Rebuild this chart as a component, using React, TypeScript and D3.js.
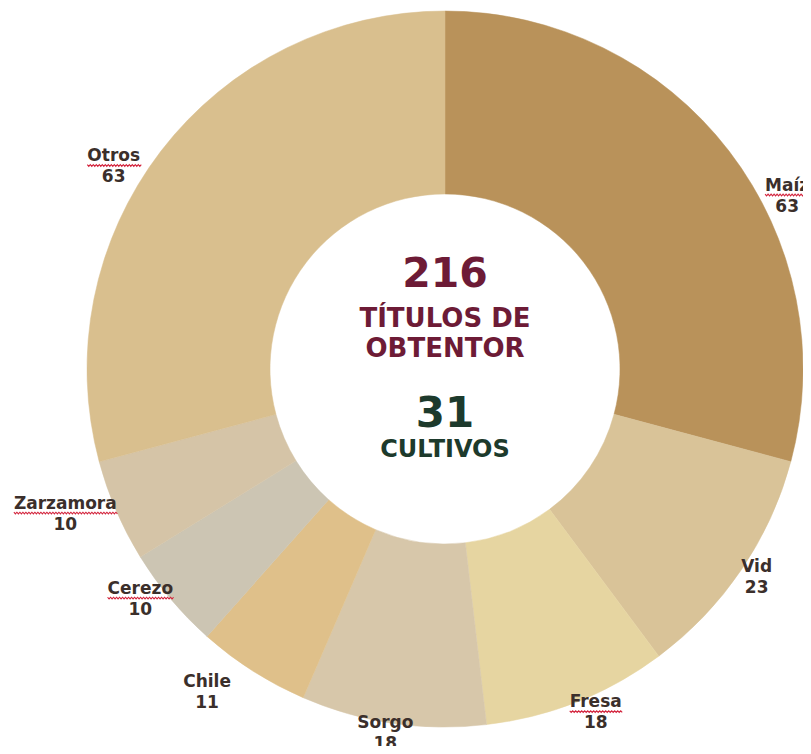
import { useEffect, useRef } from 'react';
import * as d3 from 'd3';

const crops = ['Maíz', 'Vid', 'Fresa', 'Sorgo', 'Chile', 'Cerezo', 'Zarzamora', 'Otros'];
const titles = [63, 23, 18, 18, 11, 10, 10, 63];
const sliceColors = ['#b9925a', '#d9c398', '#e6d5a1', '#d7c7aa', '#dfc08a', '#ccc5b3', '#d5c4a7', '#d9bf8e'];
// words flagged by the spell checker in the source slide
const flagged = ['Maíz', 'Zarzamora', 'Cerezo', 'Fresa', 'Otros'];

const totalTitles = 216;
const totalCrops = 31;

const FONT = '"DejaVu Sans", Verdana, sans-serif';

export default function App() {
  const ref = useRef<HTMLDivElement>(null);

  useEffect(() => {
    if (!ref.current) return;
    d3.select(ref.current).selectAll('*').remove();

    const width = 811;
    const height = 754;
    const cx = 445;
    const cy = 369;
    const outer = 358;
    const inner = 175;

    const svg = d3
      .select(ref.current)
      .append('svg')
      .attr('width', width)
      .attr('height', height)
      .style('display', 'block')
      .style('background', '#ffffff');

    const g = svg.append('g').attr('transform', `translate(${cx},${cy})`);

    const data = crops.map((c, i) => ({ crop: c, value: titles[i], color: sliceColors[i] }));
    const pie = d3
      .pie<{ crop: string; value: number; color: string }>()
      .value((d) => d.value)
      .sort(null);
    const arcs = pie(data);
    const arc = d3
      .arc<d3.PieArcDatum<{ crop: string; value: number; color: string }>>()
      .innerRadius(inner)
      .outerRadius(outer);

    g.selectAll('path.slice')
      .data(arcs)
      .enter()
      .append('path')
      .attr('class', 'slice')
      .attr('d', arc)
      .attr('fill', (d) => d.data.color)
      .attr('stroke', (d) => d.data.color)
      .attr('stroke-width', 0.5);

    // label placement tweaks (degrees, radius) relative to slice mid angle
    const tweak: Record<string, [number, number]> = {
      'Maíz': [10.5, 384],
      Vid: [-0.6, 374],
      Fresa: [-2.1, 374],
      Sorgo: [1, 368],
      Chile: [4, 400],
      Cerezo: [3.1, 381],
      Zarzamora: [2.6, 406],
      Otros: [-5.9, 389],
    };

    const labels = g
      .selectAll('g.lbl')
      .data(arcs)
      .enter()
      .append('g')
      .attr('class', 'lbl')
      .attr('transform', (d) => {
        const [da, r] = tweak[d.data.crop] || [0, 385];
        const a = (d.startAngle + d.endAngle) / 2 + (da * Math.PI) / 180;
        return `translate(${r * Math.sin(a)},${-r * Math.cos(a)})`;
      });

    labels
      .append('text')
      .attr('text-anchor', 'middle')
      .attr('y', -4)
      .attr('font-family', FONT)
      .attr('font-weight', 700)
      .attr('font-size', 17)
      .attr('fill', '#3b2f2b')
      .text((d) => d.data.crop)
      .each(function (d) {
        if (!flagged.includes(d.data.crop)) return;
        const w = (this as SVGTextElement).getComputedTextLength();
        const x0 = -w / 2;
        let p = `M${x0},-0.5`;
        for (let x = x0, k = 0; x < w / 2; x += 1.5, k++) {
          p += ` L${x + 1.5},${k % 2 === 0 ? 1.2 : -0.5}`;
        }
        d3.select((this as SVGTextElement).parentNode as SVGGElement)
          .append('path')
          .attr('d', p)
          .attr('fill', 'none')
          .attr('stroke', '#d3243d')
          .attr('stroke-width', 1.1);
      });

    labels
      .append('text')
      .attr('text-anchor', 'middle')
      .attr('y', 17)
      .attr('font-family', FONT)
      .attr('font-weight', 700)
      .attr('font-size', 17)
      .attr('fill', '#3b2f2b')
      .text((d) => d.data.value);

    // center text
    const center = g.append('g').attr('font-family', FONT).attr('font-weight', 700).attr('text-anchor', 'middle');
    center.append('text').attr('y', -82).attr('font-size', 41).attr('fill', '#6d1b36').text(totalTitles);
    center.append('text').attr('y', -42).attr('font-size', 26).attr('fill', '#6d1b36').text('TÍTULOS DE');
    center.append('text').attr('y', -12).attr('font-size', 26).attr('fill', '#6d1b36').text('OBTENTOR');
    center.append('text').attr('y', 58).attr('font-size', 42).attr('fill', '#1d3a2c').text(totalCrops);
    center.append('text').attr('y', 88).attr('font-size', 24).attr('fill', '#1d3a2c').text('CULTIVOS');
  }, []);

  return <div ref={ref} style={{ margin: -8, width: 811, height: 754, overflow: 'hidden' }} />;
}
